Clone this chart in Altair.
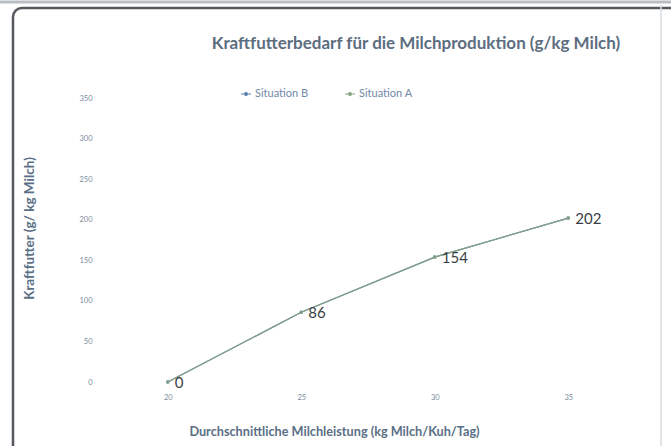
import altair as alt
import pandas as pd

# Milk yield categories (kg milk per cow and day)
milk_yield = [20, 25, 30, 35]
# Concentrate requirement in g per kg milk
situation_a = [0, 86, 154, 202]
situation_b = [0, 86, 154, 202]
series_order = ["Situation B", "Situation A"]
series_colors = ["#5b7fb0", "#86a383"]
y_ticks = [0, 50, 100, 150, 200, 250, 300, 350]

rows = []
for name, values in (("Situation B", situation_b), ("Situation A", situation_a)):
    for m, v in zip(milk_yield, values):
        rows.append({"Milchleistung": m, "Kraftfutter": v, "Serie": name})
df = pd.DataFrame(rows)

FONT = "Lato"
W, H = 534, 284

x_enc = alt.X(
    "Milchleistung:O",
    sort=milk_yield,
    scale=alt.Scale(type="point", padding=0.5),
    axis=alt.Axis(
        title="Durchschnittliche Milchleistung (kg Milch/Kuh/Tag)",
        labelAngle=0, domain=False, ticks=False, grid=False,
        labelFont=FONT, labelFontSize=7.5, labelColor="#7a8a9c", labelPadding=11,
        titleFont=FONT, titleFontSize=12.7, titleFontWeight="bold", titleColor="#5a6f86",
        titleX=233, titleY=43,
    ),
)
y_enc = alt.Y(
    "Kraftfutter:Q",
    scale=alt.Scale(domain=[0, 350], nice=False, zero=True),
    axis=alt.Axis(
        title="Kraftfutter (g/ kg Milch)",
        values=y_ticks, domain=False, ticks=False, grid=False,
        labelFont=FONT, labelFontSize=7.5, labelColor="#7a8a9c", labelPadding=9,
        titleFont=FONT, titleFontSize=13.5, titleFontWeight="bold", titleColor="#5a6f86",
        titleX=-65, titleY=130,
    ),
)

legend_symbol = "M-1,0L1,0M-0.28,0A0.28,0.28,0,1,1,0.28,0A0.28,0.28,0,1,1,-0.28,0Z"

color_enc = alt.Color(
    "Serie:N",
    scale=alt.Scale(domain=series_order, range=series_colors),
    legend=alt.Legend(
        title=None, orient="none", direction="horizontal",
        legendX=139, legendY=-10,
        symbolType=legend_symbol, symbolSize=100, symbolStrokeWidth=1.2,
        labelFont=FONT, labelFontSize=11, labelColor="#7189a6",
        columnPadding=33, labelOffset=3,
    ),
)

# Outer chart frame: dark rounded border on the left/top, faint edge on the right
frame = alt.Chart(pd.DataFrame({"k": [0]})).mark_rect(
    fill="transparent", stroke="#55595e", strokeWidth=2.5, cornerRadius=9
).encode(
    x=alt.value(-88), x2=alt.value(600), y=alt.value(-90), y2=alt.value(370)
)
top_edge = alt.Chart(pd.DataFrame({"k": [0]})).mark_rule(
    color="#b9bec4", strokeWidth=3
).encode(x=alt.value(-101), x2=alt.value(570), y=alt.value(-96))
right_edge = alt.Chart(pd.DataFrame({"k": [0]})).mark_rule(
    color="#d8dcdf", strokeWidth=1.5
).encode(x=alt.value(560), y=alt.value(-93), y2=alt.value(348))

base = alt.Chart(df)

lines = base.mark_line(strokeWidth=1.3).encode(
    x=x_enc, y=y_enc, color=color_enc, order=alt.Order("Milchleistung:Q")
)
points = base.mark_circle(size=12, opacity=1).encode(
    x=x_enc, y=y_enc,
    color=alt.Color("Serie:N", scale=alt.Scale(domain=series_order, range=series_colors), legend=None),
)
labels = base.transform_filter(alt.datum.Serie == "Situation A").mark_text(
    align="left", baseline="middle", dx=7, dy=1, font=FONT, fontSize=15, color="#3b3f44"
).encode(x=x_enc, y=y_enc, text=alt.Text("Kraftfutter:Q"))

chart = alt.layer(frame, top_edge, right_edge, lines, points, labels).properties(
    width=W, height=H,
    title=alt.TitleParams(
        "Kraftfutterbedarf für die Milchproduktion (g/kg Milch)",
        anchor="middle", dx=48, offset=-52, font=FONT, fontSize=17,
        fontWeight="bold", color="#5c6d80",
    ),
    autosize=alt.AutoSizeParams(type="none"),
    padding={"left": 101, "top": 98, "right": 36, "bottom": 64},
    background="white",
).configure_view(stroke=None)

chart.save("out.html", embed_options={"renderer": "svg", "actions": False})
